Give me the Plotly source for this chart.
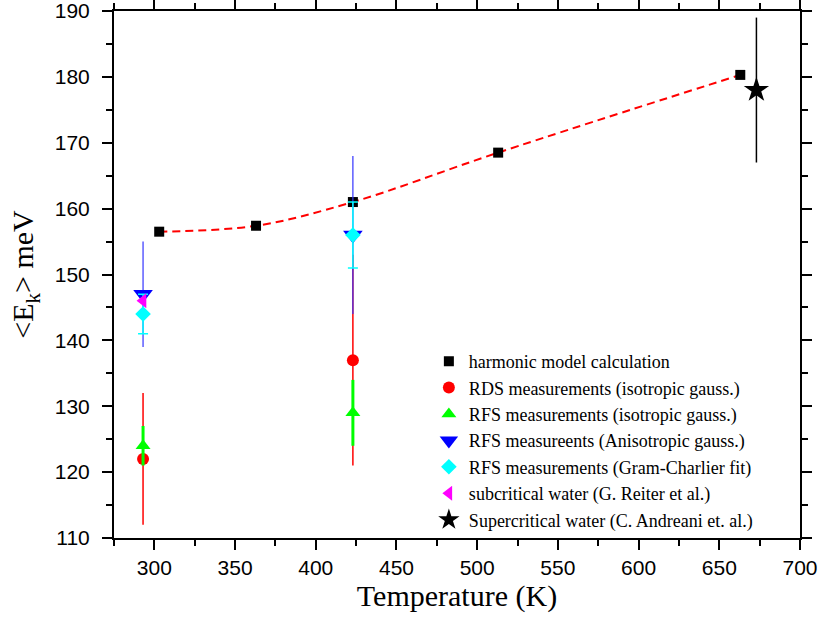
import plotly.graph_objects as go

# Harmonic model calculation
harm_T = [303, 363, 423, 513, 663]
harm_E = [156.5, 157.4, 161.0, 168.5, 180.3]

# RDS measurements (isotropic gauss.)
rds_T = [293, 423]
rds_E = [122, 137]
rds_err = [10, 16]

# RFS measurements (isotropic gauss.)
rfs_iso_T = [293, 423]
rfs_iso_E = [124, 129]
rfs_iso_err = [3, 5]

# RFS measureents (Anisotropic gauss.)
rfs_aniso_T = [293, 423]
rfs_aniso_E = [147, 156]
rfs_aniso_err = [8, 12]

# RFS measurements (Gram-Charlier fit)
rfs_gc_T = [293, 423]
rfs_gc_E = [144, 156]
rfs_gc_err = [3, 5]

# subcritical water (G. Reiter et al.)
sub_T = [293]
sub_E = [146]

# Supercritical water (C. Andreani et. al.)
sup_T = [673]
sup_E = [178]
sup_err = [11]

fig = go.Figure()

fig.add_trace(go.Scatter(x=harm_T, y=harm_E, mode="lines",
                         line=dict(color="#FF0000", width=2, dash="8px,5px", shape="spline"),
                         showlegend=False, hoverinfo="skip"))
fig.add_trace(go.Scatter(x=harm_T, y=harm_E, mode="markers", name="harmonic model calculation",
                         marker=dict(symbol="square", size=10, color="black")))
fig.add_trace(go.Scatter(x=rds_T, y=rds_E, mode="markers", name="RDS measurements (isotropic gauss.)",
                         marker=dict(symbol="circle", size=12, color="#FF0000"),
                         error_y=dict(type="data", array=rds_err, color="#FF0000", thickness=1.5, width=0)))
fig.add_trace(go.Scatter(x=rfs_iso_T, y=rfs_iso_E, mode="markers", name="RFS measurements (isotropic gauss.)",
                         marker=dict(symbol="triangle-up", size=13, color="#00FF00"),
                         error_y=dict(type="data", array=rfs_iso_err, color="#00FF00", thickness=3, width=0)))
fig.add_trace(go.Scatter(x=rfs_aniso_T, y=rfs_aniso_E, mode="markers", name="RFS measureents (Anisotropic gauss.)",
                         marker=dict(symbol="triangle-down", size=17, color="#0000FF"),
                         error_y=dict(type="data", array=rfs_aniso_err, color="#3333FF", thickness=1.2, width=0)))
fig.add_trace(go.Scatter(x=rfs_gc_T, y=rfs_gc_E, mode="markers", name="RFS measurements (Gram-Charlier fit)",
                         marker=dict(symbol="diamond", size=12, color="#00FFFF"),
                         error_y=dict(type="data", array=rfs_gc_err, color="#00FFFF", thickness=1.5, width=5)))
fig.add_trace(go.Scatter(x=sub_T, y=sub_E, mode="markers", name="subcritical water (G. Reiter et al.)",
                         marker=dict(symbol="triangle-left", size=13, color="#FF00FF")))
fig.add_trace(go.Scatter(x=sup_T, y=sup_E, mode="markers", name="Supercritical water (C. Andreani et. al.)",
                         marker=dict(symbol="star", size=19, color="black"),
                         error_y=dict(type="data", array=sup_err, color="black", thickness=1.5, width=0)))

axis_common = dict(showline=True, linewidth=2, linecolor="black", mirror="allticks", ticks="outside",
                   ticklen=10, tickwidth=2, tickcolor="black", showgrid=False, zeroline=False,
                   automargin=False, ticklabeloverflow="allow",
                   tickfont=dict(family="Liberation Sans, Arial, sans-serif", size=21, color="black"))

fig.update_xaxes(range=[275, 700], dtick=50, tick0=300,
                 minor=dict(dtick=25, ticklen=6, tickwidth=2, tickcolor="black", ticks="outside"),
                 ticklabelstandoff=0,
                 title=dict(text="Temperature (K)",
                            font=dict(family="Liberation Serif, Times New Roman, serif", size=30, color="black"),
                            standoff=4),
                 **axis_common)
fig.update_yaxes(range=[110, 190], dtick=10,
                 minor=dict(dtick=5, ticklen=6, tickwidth=2, tickcolor="black", ticks="outside"),
                 ticklabelstandoff=8,
                 title=dict(text="&lt;E<sub>k</sub>&gt; meV",
                            font=dict(family="Liberation Serif, Times New Roman, serif", size=30, color="black"),
                            standoff=12),
                 **axis_common)

fig.update_layout(
    width=820, height=617,
    margin=dict(l=114, r=20, t=11, b=79),
    plot_bgcolor="white", paper_bgcolor="white",
    legend=dict(x=0.459, y=0.37, xanchor="left", yanchor="top", bgcolor="rgba(0,0,0,0)",
                font=dict(family="Liberation Serif, Times New Roman, serif", size=18, color="black"),
                itemwidth=30),
)

fig.write_html("out.html", config={"displayModeBar": False},
               post_script="document.body.style.margin='0';document.body.style.overflow='hidden';")
